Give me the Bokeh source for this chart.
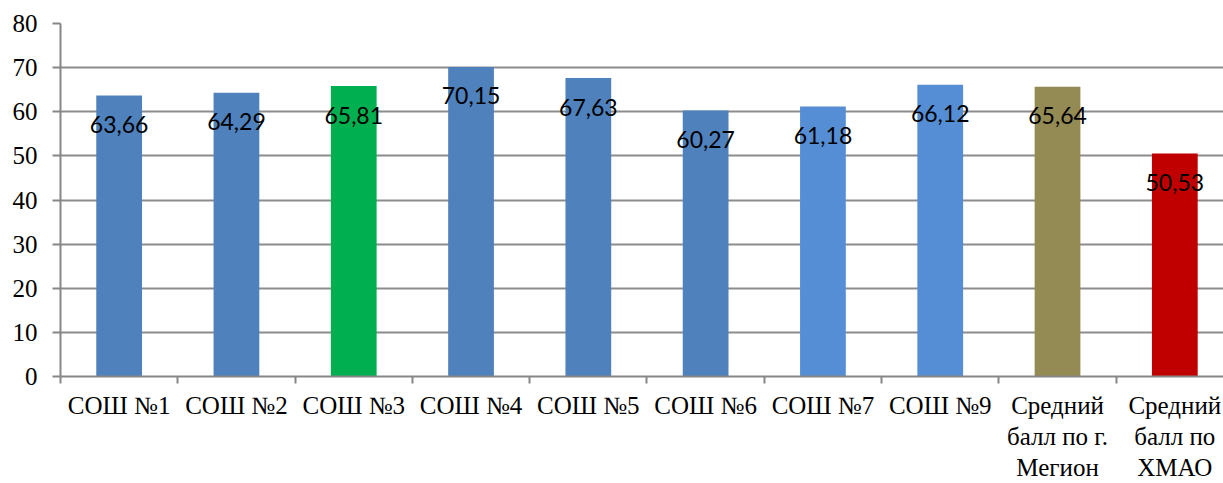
from bokeh.plotting import figure
from bokeh.models import ColumnDataSource, Range1d, FixedTicker
from bokeh.core.properties import value
from bokeh.embed import file_html
from bokeh.resources import INLINE

categories = ["СОШ №1", "СОШ №2", "СОШ №3", "СОШ №4", "СОШ №5", "СОШ №6",
              "СОШ №7", "СОШ №9", "Средний\nбалл по г.\nМегион", "Средний\nбалл по\nХМАО"]
values = [63.66, 64.29, 65.81, 70.15, 67.63, 60.27, 61.18, 66.12, 65.64, 50.53]
labels = ["63,66", "64,29", "65,81", "70,15", "67,63", "60,27", "61,18", "66,12", "65,64", "50,53"]
colors = ["#4f81bd", "#4f81bd", "#00b050", "#4f81bd", "#4f81bd", "#4f81bd",
          "#558ed5", "#558ed5", "#948a54", "#c00000"]
y_ticks = [0, 10, 20, 30, 40, 50, 60, 70, 80]

xs = [i + 0.5 for i in range(len(categories))]
src = ColumnDataSource(dict(x=xs, top=values, color=colors, label=labels))

p = figure(width=1223, height=483, output_backend="svg", toolbar_location=None,
           x_range=Range1d(0, 9.915), y_range=Range1d(0, 80),
           min_border_left=60, min_border_right=0, min_border_top=23, min_border_bottom=103)
p.outline_line_color = None
p.background_fill_color = "white"
p.border_fill_color = "white"

p.vbar(x="x", top="top", width=0.39, bottom=0, fill_color="color", line_color=None, source=src)
p.text(x="x", y="top", text="label", source=src, text_align="center", text_baseline="middle",
       y_offset=29, text_font=value("Lato"), text_font_size="23px", text_color="black")

# x axis
p.xaxis.ticker = FixedTicker(ticks=xs, minor_ticks=list(range(0, 11)))
p.xaxis.major_label_overrides = {x: c for x, c in zip(xs, categories)}
p.xaxis.major_tick_line_color = None
p.xaxis.minor_tick_line_color = "#868686"
p.xaxis.minor_tick_line_width = 2
p.xaxis.minor_tick_out = 7
p.xaxis.minor_tick_in = 0
p.xaxis.axis_line_color = "#868686"
p.xaxis.axis_line_width = 2
p.xaxis.major_label_text_font = "Liberation Serif"
p.xaxis.major_label_text_font_style = "normal"
p.xaxis.major_label_text_font_size = "25px"
p.xaxis.major_label_text_line_height = 1.15
p.xaxis.major_label_text_color = "black"
p.xaxis.major_label_standoff = 8

# y axis
p.yaxis.ticker = FixedTicker(ticks=y_ticks)
p.yaxis.minor_tick_line_color = None
p.yaxis.major_tick_line_color = "#868686"
p.yaxis.major_tick_line_width = 2
p.yaxis.major_tick_out = 8
p.yaxis.major_tick_in = 0
p.yaxis.axis_line_color = "#868686"
p.yaxis.axis_line_width = 2
p.yaxis.major_label_text_font = "Liberation Serif"
p.yaxis.major_label_text_font_style = "normal"
p.yaxis.major_label_text_font_size = "25px"
p.yaxis.major_label_text_color = "black"
p.yaxis.major_label_standoff = 15

p.xgrid.grid_line_color = None
p.ygrid.ticker = FixedTicker(ticks=y_ticks)
p.ygrid.grid_line_color = "#8c8c8c"
p.ygrid.grid_line_width = 2

open("out.html", "w").write(file_html(p, INLINE))
